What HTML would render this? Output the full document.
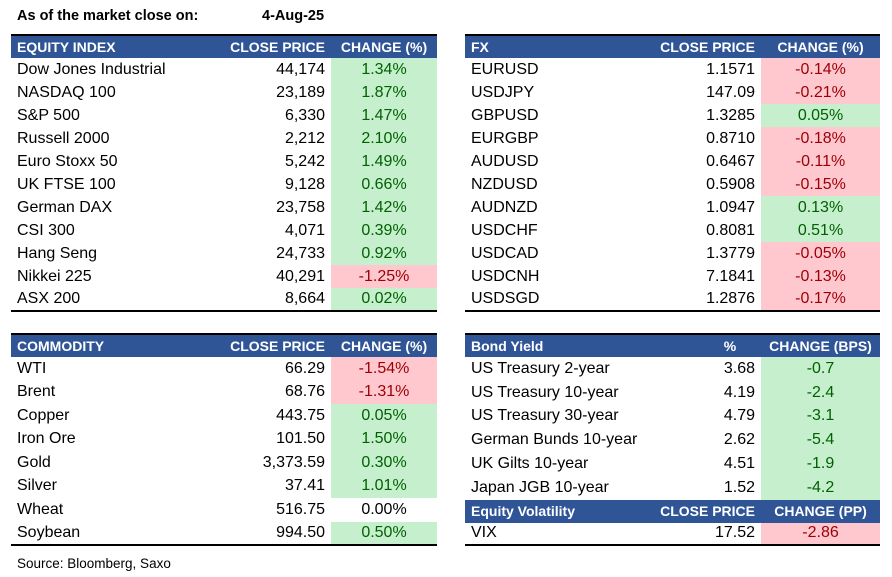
<html><head><style>
body{margin:0;width:892px;height:577px;background:#fff;font-family:"Liberation Sans",Arial,sans-serif;font-size:13px;color:#000;position:relative;overflow:hidden}
.t{position:absolute;border-collapse:collapse;table-layout:fixed;border-top:2px solid #000;border-bottom:2px solid #000}
.t td{padding:0 6px;white-space:nowrap;overflow:hidden;line-height:1}
.h td{background:#2F5597;color:#fff;font-weight:bold;font-size:14px}
.r{text-align:right}.c{text-align:center}
.g{background:#C6EFCE;color:#006100;text-align:center}
.d{background:#FFC7CE;color:#9C0006;text-align:center}
.tt{position:absolute;font-weight:bold;font-size:14.5px}
</style></head><body>
<div class="tt" style="left:17px;top:8px">As of the market close on:</div>
<div class="tt" style="left:262px;top:8px">4-Aug-25</div>

<table class="t" style="left:11px;top:34px;width:426px">
<colgroup><col style="width:210px"><col style="width:110px"><col style="width:106px"></colgroup>
<tr class="h" style="height:23px"><td>EQUITY INDEX</td><td class="r">CLOSE PRICE</td><td class="c">CHANGE (%)</td></tr>
<tr style="height:23px"><td>Dow Jones Industrial</td><td class="r">44,174</td><td class="g">1.34%</td></tr>
<tr style="height:23px"><td>NASDAQ 100</td><td class="r">23,189</td><td class="g">1.87%</td></tr>
<tr style="height:23px"><td>S&amp;P 500</td><td class="r">6,330</td><td class="g">1.47%</td></tr>
<tr style="height:23px"><td>Russell 2000</td><td class="r">2,212</td><td class="g">2.10%</td></tr>
<tr style="height:23px"><td>Euro Stoxx 50</td><td class="r">5,242</td><td class="g">1.49%</td></tr>
<tr style="height:23px"><td>UK FTSE 100</td><td class="r">9,128</td><td class="g">0.66%</td></tr>
<tr style="height:23px"><td>German DAX</td><td class="r">23,758</td><td class="g">1.42%</td></tr>
<tr style="height:23px"><td>CSI 300</td><td class="r">4,071</td><td class="g">0.39%</td></tr>
<tr style="height:23px"><td>Hang Seng</td><td class="r">24,733</td><td class="g">0.92%</td></tr>
<tr style="height:23px"><td>Nikkei 225</td><td class="r">40,291</td><td class="d">-1.25%</td></tr>
<tr style="height:23px"><td>ASX 200</td><td class="r">8,664</td><td class="g">0.02%</td></tr>
</table>

<table class="t" style="left:465px;top:34px;width:415px">
<colgroup><col style="width:180px"><col style="width:116px"><col style="width:119px"></colgroup>
<tr class="h" style="height:23px"><td>FX</td><td class="r">CLOSE PRICE</td><td class="c">CHANGE (%)</td></tr>
<tr style="height:23px"><td>EURUSD</td><td class="r">1.1571</td><td class="d">-0.14%</td></tr>
<tr style="height:23px"><td>USDJPY</td><td class="r">147.09</td><td class="d">-0.21%</td></tr>
<tr style="height:23px"><td>GBPUSD</td><td class="r">1.3285</td><td class="g">0.05%</td></tr>
<tr style="height:23px"><td>EURGBP</td><td class="r">0.8710</td><td class="d">-0.18%</td></tr>
<tr style="height:23px"><td>AUDUSD</td><td class="r">0.6467</td><td class="d">-0.11%</td></tr>
<tr style="height:23px"><td>NZDUSD</td><td class="r">0.5908</td><td class="d">-0.15%</td></tr>
<tr style="height:23px"><td>AUDNZD</td><td class="r">1.0947</td><td class="g">0.13%</td></tr>
<tr style="height:23px"><td>USDCHF</td><td class="r">0.8081</td><td class="g">0.51%</td></tr>
<tr style="height:23px"><td>USDCAD</td><td class="r">1.3779</td><td class="d">-0.05%</td></tr>
<tr style="height:23px"><td>USDCNH</td><td class="r">7.1841</td><td class="d">-0.13%</td></tr>
<tr style="height:23px"><td>USDSGD</td><td class="r">1.2876</td><td class="d">-0.17%</td></tr>
</table>

<table class="t" style="left:11px;top:333px;width:426px">
<colgroup><col style="width:210px"><col style="width:110px"><col style="width:106px"></colgroup>
<tr class="h" style="height:23px"><td>COMMODITY</td><td class="r">CLOSE PRICE</td><td class="c">CHANGE (%)</td></tr>
<tr style="height:23.5px"><td>WTI</td><td class="r">66.29</td><td class="d">-1.54%</td></tr>
<tr style="height:23.5px"><td>Brent</td><td class="r">68.76</td><td class="d">-1.31%</td></tr>
<tr style="height:23.5px"><td>Copper</td><td class="r">443.75</td><td class="g">0.05%</td></tr>
<tr style="height:23.5px"><td>Iron Ore</td><td class="r">101.50</td><td class="g">1.50%</td></tr>
<tr style="height:23.5px"><td>Gold</td><td class="r">3,373.59</td><td class="g">0.30%</td></tr>
<tr style="height:23.5px"><td>Silver</td><td class="r">37.41</td><td class="g">1.01%</td></tr>
<tr style="height:23.5px"><td>Wheat</td><td class="r">516.75</td><td class="c">0.00%</td></tr>
<tr style="height:23.5px"><td>Soybean</td><td class="r">994.50</td><td class="g">0.50%</td></tr>
</table>

<table class="t" style="left:465px;top:333px;width:415px">
<colgroup><col style="width:180px"><col style="width:116px"><col style="width:119px"></colgroup>
<tr class="h" style="height:23px"><td>Bond Yield</td><td class="c" style="padding-left:60px">%</td><td class="c">CHANGE (BPS)</td></tr>
<tr style="height:23.8px"><td>US Treasury 2-year</td><td class="r">3.68</td><td class="g">-0.7</td></tr>
<tr style="height:23.8px"><td>US Treasury 10-year</td><td class="r">4.19</td><td class="g">-2.4</td></tr>
<tr style="height:23.8px"><td>US Treasury 30-year</td><td class="r">4.79</td><td class="g">-3.1</td></tr>
<tr style="height:23.8px"><td>German Bunds 10-year</td><td class="r">2.62</td><td class="g">-5.4</td></tr>
<tr style="height:23.8px"><td>UK Gilts 10-year</td><td class="r">4.51</td><td class="g">-1.9</td></tr>
<tr style="height:23.8px"><td>Japan JGB 10-year</td><td class="r">1.52</td><td class="g">-4.2</td></tr>
<tr class="h" style="height:23px"><td>Equity Volatility</td><td class="r">CLOSE PRICE</td><td class="c">CHANGE (PP)</td></tr>
<tr style="height:22px"><td>VIX</td><td class="r">17.52</td><td class="d">-2.86</td></tr>
</table>

<div style="position:absolute;left:17px;top:556px;font-size:13.5px">Source: Bloomberg, Saxo</div>
</body></html>
